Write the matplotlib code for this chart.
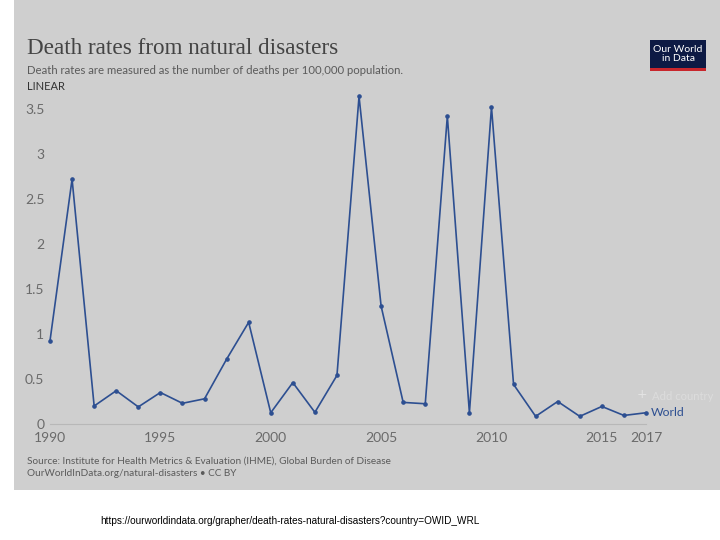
import matplotlib
matplotlib.use("Agg")
import matplotlib.pyplot as plt
from matplotlib.patches import Rectangle

# --- data ---
years = list(range(1990, 2018))
death_rate = [0.925, 2.72, 0.20, 0.37, 0.19, 0.35, 0.23, 0.28, 0.72, 1.13,
              0.125, 0.46, 0.13, 0.54, 3.64, 1.31, 0.24, 0.225, 3.42, 0.125,
              3.52, 0.44, 0.085, 0.25, 0.085, 0.195, 0.095, 0.125]
x_ticks = [1990, 1995, 2000, 2005, 2010, 2015, 2017]
y_ticks = [0, 0.5, 1, 1.5, 2, 2.5, 3, 3.5]
y_labels = ["0", "0.5", "1", "1.5", "2", "2.5", "3", "3.5"]

W, H = 720, 540
line_col = "#2d4f91"
panel_col = "#cfcfcf"
text_grey = "#5b5b5b"

fig = plt.figure(figsize=(W / 100, H / 100), dpi=100)
fig.patch.set_facecolor("white")

# grey background panel
fig.patches.append(Rectangle((14 / W, 1 - 490 / H), 1 - 14 / W, 490 / H,
                             transform=fig.transFigure, facecolor=panel_col,
                             edgecolor="none", zorder=-10))

ax = fig.add_axes([50 / W, (H - 424) / H, 596 / W, (424 - 91) / H])
ax.set_facecolor("none")
ax.set_zorder(5)
ax.plot(years, death_rate, color=line_col, lw=1.2, marker="o", ms=2.3,
        clip_on=False, zorder=3)
ax.set_xlim(1990, 2017)
ax.set_ylim(0, 3.7)

for s in ["top", "right", "left"]:
    ax.spines[s].set_visible(False)
ax.spines["bottom"].set_color("#b8b8b8")
ax.spines["bottom"].set_linewidth(0.8)

ax.set_xticks(x_ticks)
ax.set_xticklabels([str(t) for t in x_ticks])
ax.set_yticks(y_ticks)
ax.set_yticklabels(y_labels)
ax.tick_params(axis="both", length=0, labelsize=10, colors="#6a6a6a")
ax.tick_params(axis="y", pad=4)
ax.tick_params(axis="x", pad=6)
for lab in ax.get_xticklabels() + ax.get_yticklabels():
    lab.set_family("Lato")

# titles
fig.text(27 / W, 1 - 49 / H, "Death rates from natural disasters",
         family="Liberation Serif", fontsize=16.7, color="#444444", va="center")
fig.text(27 / W, 1 - 71 / H,
         "Death rates are measured as the number of deaths per 100,000 population.",
         family="Lato", fontsize=8.2, color=text_grey, va="center")
fig.text(27 / W, 1 - 86 / H, "LINEAR", family="Lato", fontsize=8,
         color="#333333", va="center")

# logo
fig.patches.append(Rectangle((650 / W, 1 - 71 / H), 56 / W, 31 / H,
                             transform=fig.transFigure, facecolor="#0d1a44",
                             edgecolor="none", zorder=2))
fig.patches.append(Rectangle((650 / W, 1 - 71 / H), 56 / W, 3 / H,
                             transform=fig.transFigure, facecolor="#c8262c",
                             edgecolor="none", zorder=3))
fig.text(678 / W, 1 - 54 / H, "Our World\nin Data", family="Lato",
         fontsize=7.5, color="white", ha="center", va="center",
         linespacing=1.0, zorder=4)

# legend labels at line end
fig.text(651 / W, 1 - 412 / H, "World", family="Lato", fontsize=8.8,
         color=line_col, va="center")
fig.text(637 / W, 1 - 395 / H, "+", family="DejaVu Sans", fontsize=9,
         color="#e4e4e4", va="center")
fig.text(652 / W, 1 - 396 / H, "Add country", family="Lato", fontsize=8.1,
         color="#dcdcdc", va="center")

# source
fig.text(27 / W, 1 - 461 / H,
         "Source: Institute for Health Metrics & Evaluation (IHME), Global Burden of Disease",
         family="Lato", fontsize=7.2, color=text_grey, va="center")
fig.text(27 / W, 1 - 474 / H, "OurWorldInData.org/natural-disasters \u2022 CC BY",
         family="Lato", fontsize=7.2, color=text_grey, va="center")

# url below the panel
fig.text(100 / W, 1 - 521 / H,
         "https://ourworldindata.org/grapher/death-rates-natural-disasters?country=OWID_WRL",
         family="Liberation Sans", fontsize=7.2, color="black", va="center")

fig.savefig("out.png", dpi=100)
